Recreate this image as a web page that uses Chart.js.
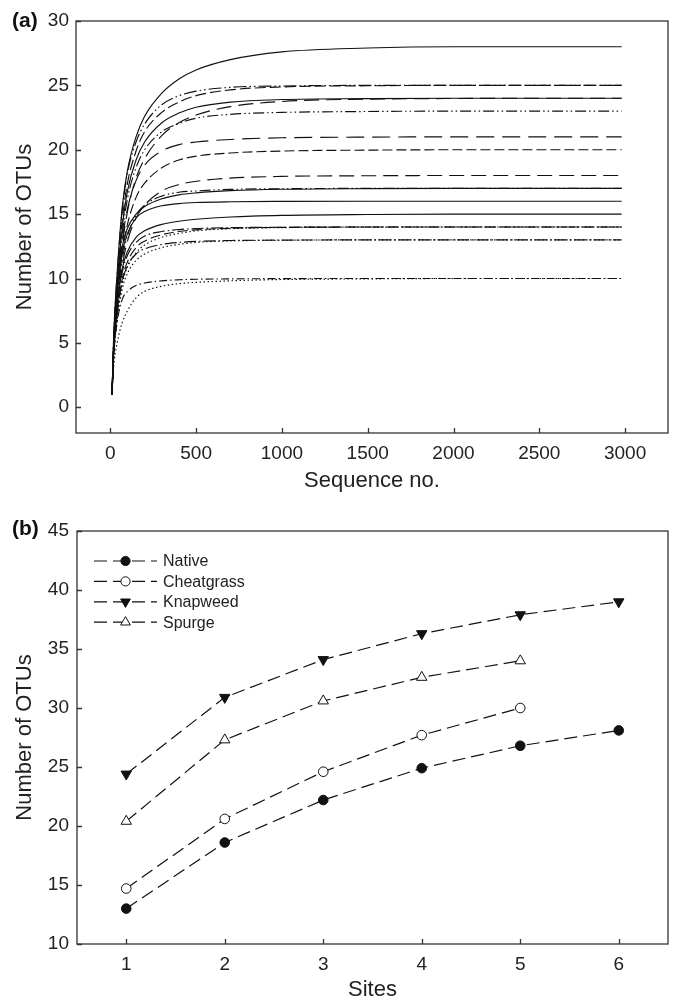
<!DOCTYPE html>
<html><head><meta charset="utf-8">
<script src="https://cdn.jsdelivr.net/npm/chart.js@4.4.1/dist/chart.umd.min.js"></script>
<style>
html,body{margin:0;padding:0;background:#fff;}
#wa{position:absolute;left:0;top:0;width:675px;height:500px;}
#wb{position:absolute;left:0;top:500px;width:675px;height:501px;}
</style></head><body>
<div id="wa"><canvas id="ca" width="675" height="500"></canvas></div>
<div id="wb"><canvas id="cb" width="675" height="501"></canvas></div>
<script>
// ---------- Panel (a): rarefaction curves ----------
const seqNo = [10, 20, 40, 70, 100, 150, 200, 300, 400, 500, 700, 1000, 1500, 2000, 2500, 2980];
const c28  = [1, 5.6, 10.45, 15.6, 18.4, 21.0, 22.6, 24.4, 25.5, 26.2, 27.0, 27.6, 27.9, 28.0, 28, 28];
const c25a = [1, 5.6, 10.4, 15.4, 18.2, 20.6, 22.0, 23.5, 24.2, 24.55, 24.85, 24.95, 25, 25, 25, 25];
const c25b = [1, 5.3, 9.8, 14.6, 17.4, 19.9, 21.4, 22.9, 23.7, 24.2, 24.65, 24.88, 24.97, 25, 25, 25];
const c24a = [1, 5.2, 9.5, 14.0, 16.8, 19.2, 20.6, 22.1, 22.85, 23.3, 23.7, 23.9, 23.97, 24, 24, 24];
const c24b = [1, 4.8, 8.6, 12.6, 15.2, 17.8, 19.3, 21.1, 22.1, 22.7, 23.35, 23.75, 23.93, 23.98, 24, 24];
const c23  = [1, 5.0, 9.2, 13.5, 16.2, 18.6, 20.0, 21.4, 22.05, 22.45, 22.75, 22.9, 22.97, 23, 23, 23];
const c21  = [1, 4.9, 9.0, 13.0, 15.4, 17.6, 18.8, 19.9, 20.4, 20.6, 20.8, 20.93, 20.98, 21, 21, 21];
const c20  = [1, 4.6, 8.4, 12.0, 14.2, 16.3, 17.4, 18.6, 19.2, 19.5, 19.75, 19.9, 19.97, 20, 20, 20];
const c18  = [1, 4.4, 7.8, 11.0, 12.9, 14.7, 15.7, 16.8, 17.3, 17.55, 17.8, 17.93, 17.98, 18, 18, 18];
const c17a = [1, 4.7, 8.3, 11.5, 13.3, 14.9, 15.7, 16.4, 16.7, 16.8, 16.92, 16.97, 17, 17, 17, 17];
const c17b = [1, 5.2, 9.3, 12.5, 13.9, 15.0, 15.6, 16.2, 16.5, 16.65, 16.82, 16.93, 16.98, 17, 17, 17];
const c16  = [1, 5.0, 8.9, 12.0, 13.5, 14.7, 15.2, 15.65, 15.82, 15.9, 15.96, 15.99, 16, 16, 16, 16];
const c15  = [1, 4.6, 8.0, 10.8, 12.1, 13.2, 13.7, 14.2, 14.45, 14.6, 14.78, 14.9, 14.97, 15, 15, 15];
const c14a = [1, 4.5, 7.8, 10.5, 11.8, 12.8, 13.3, 13.65, 13.8, 13.88, 13.95, 13.98, 14, 14, 14, 14];
const c14b = [1, 4.3, 7.4, 10.0, 11.3, 12.4, 12.9, 13.4, 13.65, 13.78, 13.9, 13.97, 14, 14, 14, 14];
const c14c = [1, 4.1, 7.0, 9.6, 10.9, 12.0, 12.6, 13.2, 13.5, 13.7, 13.87, 13.95, 13.99, 14, 14, 14];
const c13a = [1, 4.2, 7.2, 9.8, 11.0, 11.9, 12.3, 12.65, 12.8, 12.88, 12.95, 12.98, 13, 13, 13, 13];
const c13b = [1, 4.0, 6.8, 9.2, 10.4, 11.4, 11.9, 12.4, 12.65, 12.8, 12.92, 12.97, 13, 13, 13, 13];
const c10a = [1, 4.0, 6.6, 8.4, 9.0, 9.45, 9.65, 9.82, 9.9, 9.94, 9.97, 9.99, 10, 10, 10, 10];
const c10b = [1, 3.2, 5.0, 6.6, 7.5, 8.5, 9.0, 9.4, 9.6, 9.7, 9.82, 9.92, 9.97, 10, 10, 10];
const xTicksA = [0, 500, 1000, 1500, 2000, 2500, 3000];
const yTicksA = [0, 5, 10, 15, 20, 25, 30];

// ---------- Panel (b): accumulation curves ----------
const sites = [1, 2, 3, 4, 5, 6];
const nativeOTU = [13.0, 18.6, 22.2, 24.9, 26.8, 28.1];
const cheatgrassOTU = [14.7, 20.6, 24.6, 27.7, 30.0];
const knapweedOTU = [24.4, 30.9, 34.1, 36.3, 37.9, 39.0];
const spurgeOTU = [20.4, 27.3, 30.6, 32.6, 34.0];
const seriesNames = ['Native', 'Cheatgrass', 'Knapweed', 'Spurge'];
const xTicksB = [1, 2, 3, 4, 5, 6];
const yTicksB = [10, 15, 20, 25, 30, 35, 40, 45];

// ---------- styles ----------
const FONT = '"Liberation Sans", Arial, Helvetica, sans-serif';
const INK = '#111';
const DASH = {
  solid: [], dash: [11, 4], dash2: [10, 4], longdash: [18, 8], longdash2: [15, 7],
  ddot: [13, 3, 1.5, 3, 1.5, 3], ddot2: [11, 3, 1.5, 3, 1.5, 3],
  dashdot: [12, 3, 1.5, 3], dashdot2: [8, 3, 1.5, 3], dotted: [1.5, 2.5]
};
const curvesA = [c28, c25a, c25b, c24a, c24b, c23, c21, c20, c18, c17a, c17b, c16, c15, c14a, c14b, c14c, c13a, c13b, c10a, c10b];
const curveStyle = ['solid', 'ddot', 'dash', 'solid', 'longdash2', 'ddot2', 'longdash', 'dash2', 'longdash2', 'ddot2', 'solid', 'solid', 'solid', 'dashdot', 'dash2', 'dotted', 'dashdot', 'dotted', 'dashdot2', 'dotted'];

Chart.defaults.font.family = FONT;
Chart.defaults.color = '#222';

const framePlugin = {
  id: 'frame',
  afterDraw(chart, args, opts) {
    const {ctx, chartArea: a, scales} = chart;
    ctx.save();
    ctx.strokeStyle = '#333';
    ctx.lineWidth = 1.3;
    ctx.setLineDash([]);
    ctx.strokeRect(a.left, a.top, a.right - a.left, a.bottom - a.top);
    ctx.beginPath();
    scales.x.ticks.forEach(t => {
      const px = Math.round(scales.x.getPixelForValue(t.value)) + 0.5;
      ctx.moveTo(px, a.bottom); ctx.lineTo(px, a.bottom - 5);
    });
    scales.y.ticks.forEach(t => {
      const py = Math.round(scales.y.getPixelForValue(t.value)) + 0.5;
      ctx.moveTo(a.left, py); ctx.lineTo(a.left + 5, py);
    });
    ctx.stroke();
    if (opts.label) {
      ctx.fillStyle = '#111';
      ctx.font = 'bold 21px ' + FONT;
      ctx.textAlign = 'left';
      ctx.textBaseline = 'middle';
      ctx.fillText(opts.label, opts.lx, opts.ly);
    }
    ctx.restore();
  }
};

function marker(ctx, style, x, y, r, filled) {
  ctx.beginPath();
  if (style === 'circle') {
    ctx.arc(x, y, r, 0, Math.PI * 2);
  } else if (style === 'tri-up') {
    ctx.moveTo(x, y - r); ctx.lineTo(x + r * 0.866, y + r / 2); ctx.lineTo(x - r * 0.866, y + r / 2); ctx.closePath();
  } else {
    ctx.moveTo(x, y + r); ctx.lineTo(x + r * 0.866, y - r / 2); ctx.lineTo(x - r * 0.866, y - r / 2); ctx.closePath();
  }
  ctx.fillStyle = filled ? INK : '#fff';
  ctx.fill();
  ctx.strokeStyle = INK; ctx.lineWidth = 1;
  ctx.stroke();
}

const legendPlugin = {
  id: 'lineLegend',
  afterDraw(chart, args, opts) {
    const ctx = chart.ctx;
    ctx.save();
    chart.data.datasets.forEach((ds, i) => {
      const y = opts.y0 + i * opts.dy;
      ctx.strokeStyle = INK; ctx.lineWidth = 1.2; ctx.setLineDash(ds.borderDash);
      ctx.beginPath(); ctx.moveTo(opts.x0, y); ctx.lineTo(opts.x1, y); ctx.stroke();
      ctx.setLineDash([]);
      marker(ctx, opts.styles[i], (opts.x0 + opts.x1) / 2, y, opts.radii[i], opts.filled[i]);
      ctx.fillStyle = '#222';
      ctx.font = '16px ' + FONT;
      ctx.textAlign = 'left'; ctx.textBaseline = 'middle';
      ctx.fillText(ds.label, opts.tx, y + 1);
    });
    ctx.restore();
  }
};

const tickFont = {size: 19, family: FONT};
const titleFont = {size: 22, family: FONT, lineHeight: 1};

new Chart(document.getElementById('ca'), {
  type: 'line',
  data: {
    datasets: curvesA.map((c, i) => ({
      label: 'curve ' + (i + 1),
      data: seqNo.map((n, j) => ({x: n, y: c[j]})),
      borderColor: INK, borderWidth: 1.15, borderDash: DASH[curveStyle[i]],
      pointRadius: 0, fill: false, cubicInterpolationMode: 'monotone'
    }))
  },
  options: {
    responsive: false, animation: false,
    layout: {padding: {left: 0, right: 7, top: 21, bottom: 0}},
    plugins: {legend: {display: false}, tooltip: {enabled: false},
      frame: {label: '(a)', lx: 12, ly: 21}},
    scales: {
      x: {type: 'linear', min: -200, max: 3250,
        afterBuildTicks: s => { s.ticks = xTicksA.map(v => ({value: v})); },
        afterFit: s => { s.height = 67; },
        grid: {display: false, drawTicks: false}, border: {display: false},
        ticks: {font: tickFont, color: '#222', padding: 9, maxRotation: 0, autoSkip: false, callback: v => String(v)},
        title: {display: true, text: 'Sequence no.', font: titleFont, color: '#222', padding: {top: 0, bottom: 8}}},
      y: {type: 'linear', min: -2, max: 30,
        afterBuildTicks: s => { s.ticks = yTicksA.map(v => ({value: v})); },
        afterFit: s => { s.width = 76; },
        grid: {display: false, drawTicks: false}, border: {display: false},
        ticks: {font: tickFont, color: '#222', padding: 7, autoSkip: false, callback: v => String(v)},
        title: {display: true, text: 'Number of OTUs', font: titleFont, color: '#222', padding: {top: 14, bottom: 0}}}
    }
  },
  plugins: [framePlugin]
});

const seriesB = [nativeOTU, cheatgrassOTU, knapweedOTU, spurgeOTU];
const markerStyleB = ['circle', 'circle', 'triangle', 'triangle'];
const markerRotB = [0, 0, 180, 0];
const markerFillB = [true, false, true, false];
const markerRadB = [4.8, 4.8, 6, 6];

new Chart(document.getElementById('cb'), {
  type: 'line',
  data: {
    datasets: seriesB.map((vals, i) => ({
      label: seriesNames[i],
      data: vals.map((v, j) => ({x: sites[j], y: v})),
      borderColor: INK, borderWidth: 1.2, borderDash: [13, 6],
      pointStyle: markerStyleB[i], rotation: markerRotB[i], pointRotation: markerRotB[i],
      pointRadius: markerRadB[i], pointBorderWidth: 1,
      pointBackgroundColor: markerFillB[i] ? INK : '#fff', pointBorderColor: INK,
      fill: false, tension: 0
    }))
  },
  options: {
    responsive: false, animation: false,
    layout: {padding: {left: 0, right: 7, top: 31, bottom: 0}},
    plugins: {legend: {display: false}, tooltip: {enabled: false},
      frame: {label: '(b)', lx: 12, ly: 29},
      lineLegend: {x0: 94, x1: 157, tx: 163, y0: 61, dy: 20.4,
        styles: ['circle', 'circle', 'tri-down', 'tri-up'], radii: [4.6, 4.6, 5.6, 5.6], filled: markerFillB}},
    scales: {
      x: {type: 'linear', min: 0.5, max: 6.5,
        afterBuildTicks: s => { s.ticks = xTicksB.map(v => ({value: v})); },
        afterFit: s => { s.height = 57; },
        grid: {display: false, drawTicks: false}, border: {display: false},
        ticks: {font: tickFont, color: '#222', padding: 9, maxRotation: 0, autoSkip: false, callback: v => String(v)},
        title: {display: true, text: 'Sites', font: titleFont, color: '#222', padding: {top: 0, bottom: 0}}},
      y: {type: 'linear', min: 10, max: 45,
        afterBuildTicks: s => { s.ticks = yTicksB.map(v => ({value: v})); },
        afterFit: s => { s.width = 77; },
        grid: {display: false, drawTicks: false}, border: {display: false},
        ticks: {font: tickFont, color: '#222', padding: 8, autoSkip: false, callback: v => String(v)},
        title: {display: true, text: 'Number of OTUs', font: titleFont, color: '#222', padding: {top: 14, bottom: 0}}}
    }
  },
  plugins: [framePlugin, legendPlugin]
});
</script>
</body></html>
